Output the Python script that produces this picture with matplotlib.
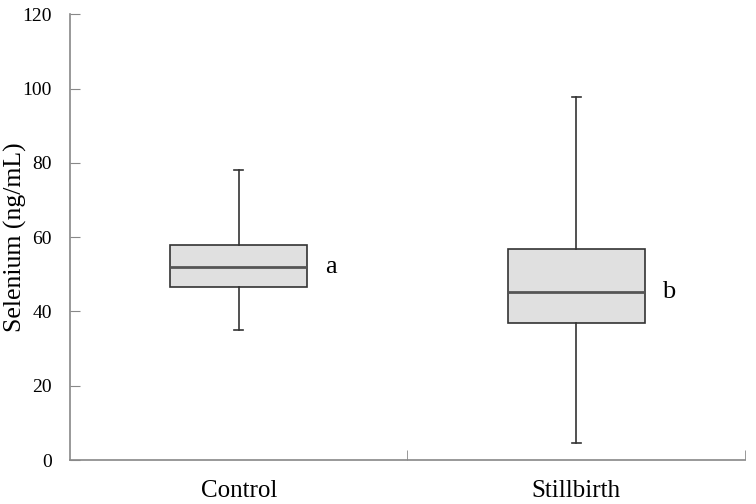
import matplotlib.pyplot as plt

# Selenium (ng/mL) summary
groups = ["Control", "Stillbirth"]
whisker_low = [35.0, 4.5]
q1 = [46.6, 36.8]
median = [52.0, 45.1]
q3 = [57.8, 56.7]
whisker_high = [78.1, 97.6]
letters = ["a", "b"]

plt.rcParams["font.family"] = ["Liberation Serif", "DejaVu Serif"]

fig = plt.figure(figsize=(7.56, 5.04), dpi=100)
ax = fig.add_axes([0.0926, 0.0873, 0.8928, 0.8845])

stats = []
for i, g in enumerate(groups):
    stats.append({
        "label": g,
        "whislo": whisker_low[i],
        "q1": q1[i],
        "med": median[i],
        "q3": q3[i],
        "whishi": whisker_high[i],
        "fliers": [],
    })

positions = list(range(1, len(groups) + 1))
ax.bxp(
    stats,
    positions=positions,
    widths=0.405,
    capwidths=0.027,
    patch_artist=True,
    showfliers=False,
    boxprops=dict(facecolor="#e0e0e0", edgecolor="#333333", linewidth=1.2),
    medianprops=dict(color="#555555", linewidth=2.0),
    whiskerprops=dict(color="#333333", linewidth=1.2),
    capprops=dict(color="#333333", linewidth=1.2),
)

# significance letters next to each box
for pos, med, let in zip(positions, median, letters):
    ax.text(pos + 0.273, med, let, fontsize=19, ha="center", va="center")

ax.set_xlim(0.5, len(groups) + 0.5)
ax.set_ylim(0, 120)
ax.set_yticks(range(0, 121, 20))
ax.set_xticks(positions)
ax.set_xticklabels(groups, fontsize=18)
ax.set_xticks([p + 0.5 for p in positions], minor=True)
ax.tick_params(axis="x", which="major", length=0, pad=14.5)
ax.tick_params(axis="x", which="minor", length=7, direction="in", color="#888888")
ax.tick_params(axis="y", length=7, direction="in", color="#888888",
               labelsize=14, pad=13)
ax.set_ylabel("Selenium (ng/mL)", fontsize=18.5)
ax.yaxis.set_label_coords(-0.064, 0.5)

for s in ["top", "right"]:
    ax.spines[s].set_visible(False)
for s in ["left", "bottom"]:
    ax.spines[s].set_color("#888888")
    ax.spines[s].set_linewidth(1.2)

fig.savefig("out.png", dpi=100)
